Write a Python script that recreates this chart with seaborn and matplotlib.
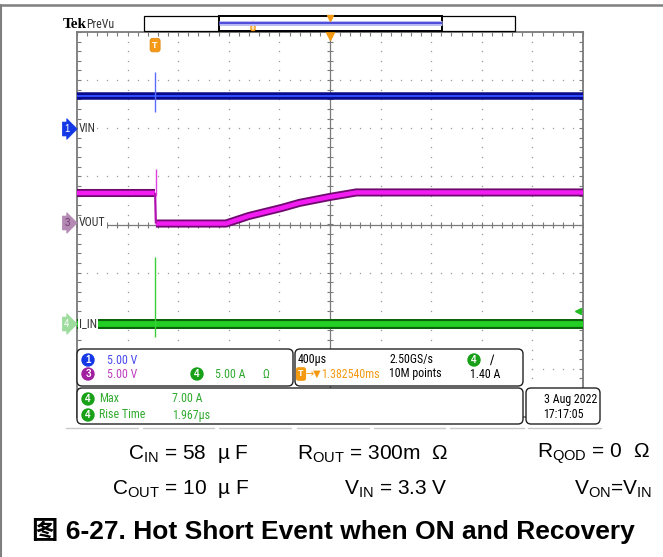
import matplotlib
matplotlib.use("Agg")
import matplotlib.pyplot as plt
import seaborn as sns
import numpy as np
import pandas as pd
from matplotlib import font_manager as fm
from matplotlib.patches import FancyBboxPatch, Ellipse, Rectangle

sns.set_style("white")
plt.rcParams['font.family'] = ['Liberation Sans', 'Noto Sans CJK SC', 'DejaVu Sans']
plt.rcParams['mathtext.fontset'] = 'custom'
plt.rcParams['mathtext.rm'] = 'Liberation Sans'
plt.rcParams['mathtext.default'] = 'regular'

# narrow face for the scope read-outs, if the machine has one
SCOPE_FP, SCOPE_SIZE = fm.FontProperties(family='Liberation Sans'), 8.0
files = [f.fname for f in fm.fontManager.ttflist]
for key, size in [('LiberationSansNarrow-Regular', 8.8), ('RobotoCondensed-Regular', 8.6)]:
    hit = [p for p in files if key in p]
    if hit:
        SCOPE_FP, SCOPE_SIZE = fm.FontProperties(fname=hit[0]), size
        break

# ---- scope settings ----
T_DIV = 0.4            # ms / div  (400 us)
T_CENTER = 1.382540    # ms from trigger to screen centre
V_DIV = {1: 5.0, 3: 5.0, 4: 5.0}
OFFSET = {1: 1.99, 3: 0.0, 4: -2.07}   # ground marker position, div
TRIG_LEVEL = 1.40      # A on ch4

# ---- traces, time in ms from trigger ----
vin_t = [-0.63, 3.39]
vin_v = [3.4, 3.4]
vin_spike_t = [0.0, 0.0]
vin_spike_v = [5.85, 1.7]

vout_pre_t = [-0.63, 0.0]
vout_pre_v = [3.3, 3.3]
vout_drop_t = [0.0, 0.006]
vout_drop_v = [3.3, 0.1]
vout_post_t = [0.006, 0.56, 0.74, 1.00, 1.14, 1.38, 1.59, 3.39]
vout_post_v = [0.1, 0.1, 0.88, 1.72, 2.24, 2.86, 3.33, 3.33]
vout_spike_t = [0.004, 0.004]
vout_spike_v = [5.77, 3.0]

iin_t = [-0.63, 3.39]
iin_v = [0.0, 0.0]
iin_spike_t = [0.0, 0.0]
iin_spike_v = [7.0, -1.35]


def to_screen(t, v, ch):
    x = (np.asarray(t) - T_CENTER) / T_DIV
    y = OFFSET[ch] + np.asarray(v) / V_DIV[ch]
    return pd.DataFrame({'x': x, 'y': y})


def trace(ax, t, v, ch, color, lw, z=3):
    df = to_screen(t, v, ch)
    sns.lineplot(data=df, x='x', y='y', ax=ax, color=color, lw=lw, estimator=None,
                 sort=False, legend=False, zorder=z, solid_capstyle='butt')


fig = plt.figure(figsize=(6.63, 5.57), dpi=100)
ax = fig.add_axes([77 / 663, 1 - 417 / 557, 506 / 663, 385 / 557])
ax.set_xlim(-5, 5)
ax.set_ylim(-4, 4)

# ---- graticule ----
grid_c = '#9a9a9a'
steps_x = np.arange(-5, 5.001, 0.2)
steps_y = np.arange(-4, 4.001, 0.2)
for k in range(-4, 5):
    if k != 0:
        ax.plot(np.full_like(steps_y, k), steps_y, ls='none', marker='s', ms=0.9, mew=0,
                color=grid_c, zorder=1)
for k in range(-3, 4):
    if k != 0:
        ax.plot(steps_x, np.full_like(steps_x, k), ls='none', marker='s', ms=0.9, mew=0,
                color=grid_c, zorder=1)
ax.axhline(0, color='#7a7a7a', lw=0.9, zorder=1)
ax.axvline(0, color='#7a7a7a', lw=0.9, zorder=1)
ax.plot(steps_x, np.zeros_like(steps_x), ls='none', marker='|', ms=4, mew=0.8, color='#7a7a7a', zorder=1)
ax.plot(np.zeros_like(steps_y), steps_y, ls='none', marker='_', ms=4, mew=0.8, color='#7a7a7a', zorder=1)

ax.set_xticks(np.arange(-5, 5.01, 1))
ax.set_yticks(np.arange(-4, 4.01, 1))
ax.set_xticks(steps_x, minor=True)
ax.set_yticks(steps_y, minor=True)
ax.tick_params(which='both', direction='in', length=3, width=0.8, color='#7a7a7a',
               top=True, right=True, bottom=True, left=True,
               labelbottom=False, labelleft=False)
for s in ax.spines.values():
    s.set_color('#7a7a7a')
    s.set_linewidth(1.3)
ax.set_xlabel('')
ax.set_ylabel('')

# ---- waveforms ----
trace(ax, vin_t, vin_v, 1, '#0a0a8c', 5.4)
trace(ax, vin_t, vin_v, 1, '#2f4dff', 1.4)
trace(ax, vin_spike_t, vin_spike_v, 1, '#5a6cff', 1.0)

for tt, vv in [(vout_pre_t, vout_pre_v), (vout_post_t, vout_post_v)]:
    trace(ax, tt, vv, 3, '#6e0a6e', 5.8)
    trace(ax, tt, vv, 3, '#f21cf2', 3.2)
trace(ax, vout_drop_t, vout_drop_v, 3, '#b010b0', 1.6)
trace(ax, vout_spike_t, vout_spike_v, 3, '#e040e0', 1.0)

trace(ax, iin_t, iin_v, 4, '#0b630b', 7.2)
trace(ax, iin_t, iin_v, 4, '#22cf22', 4.2)
trace(ax, iin_spike_t, iin_spike_v, 4, '#3ccf3c', 1.0)

# trigger level / trigger position / expansion point
ax.plot([4.9], [OFFSET[4] + TRIG_LEVEL / V_DIV[4]], marker='<', ms=5, color='#22bb22',
        clip_on=False, zorder=6)
xt = ax.get_xaxis_transform()
ax.text((0 - T_CENTER) / T_DIV, 0.966, 'T', transform=xt, ha='center', va='center',
        color='white', fontsize=6.5, fontweight='bold', zorder=6,
        bbox=dict(boxstyle='round,pad=0.25,rounding_size=0.3', fc='#f59a17', ec='#e08a10', lw=0.6))
ax.plot([0], [0.993], transform=xt, marker='v', ms=6.5, color='#f39a12', clip_on=False, zorder=6)

# ---- overlay in pixel coordinates ----
ov = fig.add_axes([0, 0, 1, 1], zorder=5)
ov.set_xlim(0, 663)
ov.set_ylim(557, 0)
ov.axis('off')
ov.patch.set_alpha(0)

# outer frame
ov.plot([0, 663], [4.5, 4.5], color='#7f7f7f', lw=1.8)
ov.plot([1, 1], [4.5, 557], color='#7f7f7f', lw=1.5)


def st(x, y, s, color, ha='left', size=None):
    ov.text(x, y, s, ha=ha, va='center', fontproperties=SCOPE_FP,
            fontsize=size or SCOPE_SIZE, color=color)


# header
ov.text(63, 24, 'Tek', fontsize=11, fontweight='bold', family=['Liberation Serif', 'DejaVu Serif'],
        va='center', ha='left', color='black')
st(86, 24, 'PreVu', '#333333')
ov.add_patch(Rectangle((144, 16), 371, 15, fc='white', ec='black', lw=0.9))
ov.add_patch(Rectangle((219, 16), 223, 15, fc='white', ec='black', lw=1.4))
ov.plot([219, 442], [23, 23], color='#b8b8f2', lw=3.5, solid_capstyle='butt')
ov.plot([219, 442], [23, 23], color='#3a3ad8', lw=1.2, solid_capstyle='butt')
ov.add_patch(FancyBboxPatch((251, 21.5), 4, 9, boxstyle='round,pad=0,rounding_size=1.5',
                            fc='#fde0b0', ec='#f39a12', lw=1.0))
ov.plot([330], [17.5], marker='v', ms=4.5, color='#f39a12')

# channel badges and labels
badges = [(129, '1', '#1438e6', 'white', 'VIN'),
          (223, '3', '#b48ab4', '#6e3a6e', 'VOUT'),
          (324, '4', '#9edc9e', 'white', 'I_IN')]
for y, num, fc, tc, lab in badges:
    ov.text(67, y, num, ha='center', va='center', fontsize=7, color=tc,
            bbox=dict(boxstyle='rarrow,pad=0.2', fc=fc, ec=fc, lw=0.5))
    ov.text(79, y, lab, ha='left', va='center', fontproperties=SCOPE_FP, fontsize=SCOPE_SIZE,
            color='#333333', bbox=dict(boxstyle='square,pad=0.08', fc='white', ec='none'))


# info boxes
def box(x0, y0, x1, y1):
    ov.add_patch(FancyBboxPatch((x0, y0), x1 - x0, y1 - y0,
                                boxstyle='round,pad=0,rounding_size=5',
                                fc='white', ec='#222222', lw=1.0))


box(77, 349, 293, 386)
box(295, 349, 523, 386)
box(77, 388, 523, 424)
box(526, 388, 600, 424)


def chip(x, y, num, color):
    ov.add_patch(Ellipse((x, y), 12, 12, fc=color, ec=color))
    ov.text(x, y + 0.3, num, ha='center', va='center', fontsize=7, color='white', fontweight='bold')


blue_t, purple_t, green_t, orange_t = '#4848ee', '#c03cc0', '#2faa2f', '#f39a12'
chip(88, 360, '1', '#1438e6')
st(107, 360, '5.00 V', blue_t)
chip(88, 374, '3', '#a020a0')
st(107, 374, '5.00 V', purple_t)
chip(197, 374, '4', '#18a018')
st(215, 374, '5.00 A', green_t)
st(262, 374, 'Ω', green_t)

st(298, 360, '400µs', 'black')
st(389, 360, '2.50GS/s', 'black')
chip(474, 360, '4', '#18a018')
ov.text(490, 360, '∕', ha='left', va='center', fontsize=9, color='black', family='DejaVu Sans')
ov.text(301, 374, 'T', ha='center', va='center', fontsize=6.5, color='white', fontweight='bold',
        bbox=dict(boxstyle='round,pad=0.18,rounding_size=0.2', fc=orange_t, ec=orange_t))
ov.text(305.5, 374, '→▼', ha='left', va='center', fontsize=7, color=orange_t, family='DejaVu Sans')
st(321, 374, '1.382540ms', orange_t)
st(389, 374, '10M points', 'black')
st(470, 374, '1.40 A', 'black')

chip(88, 399, '4', '#18a018')
st(99, 399, 'Max', green_t)
st(172, 399, '7.00 A', green_t)
chip(88, 415, '4', '#18a018')
st(99, 415, 'Rise Time', green_t)
st(172, 415, '1.967µs', green_t)

st(597, 399, '3 Aug 2022', 'black', ha='right')
st(543, 414, '17:17:05', 'black')

# bezel segments
for a, b in [(66, 138), (143, 214), (219, 291), (297, 369), (374, 445), (450, 524), (528, 601)]:
    ov.plot([a, b], [427.5, 427.5], color='#c8c8c8', lw=1.0)

# test conditions
cond = [(249, 454, 'C$_{IN}$ = 58  µ F'),
        (448, 454, 'R$_{OUT}$ = 300m  Ω'),
        (650, 454, 'R$_{QOD}$ = 0  Ω'),
        (249, 489, 'C$_{OUT}$ = 10  µ F'),
        (448, 489, 'V$_{IN}$ = 3.3 V'),
        (652, 489, 'V$_{ON}$=V$_{IN}$')]
for x, y, s in cond:
    ov.text(x, y, s, ha='right', va='center', fontsize=15, color='black')

ov.text(333, 531, '图 6-27. Hot Short Event when ON and Recovery', ha='center', va='center',
        fontsize=19, fontweight='bold', color='black',
        family=['Liberation Sans', 'Noto Sans CJK SC'])

fig.savefig('out.png', dpi=100)
